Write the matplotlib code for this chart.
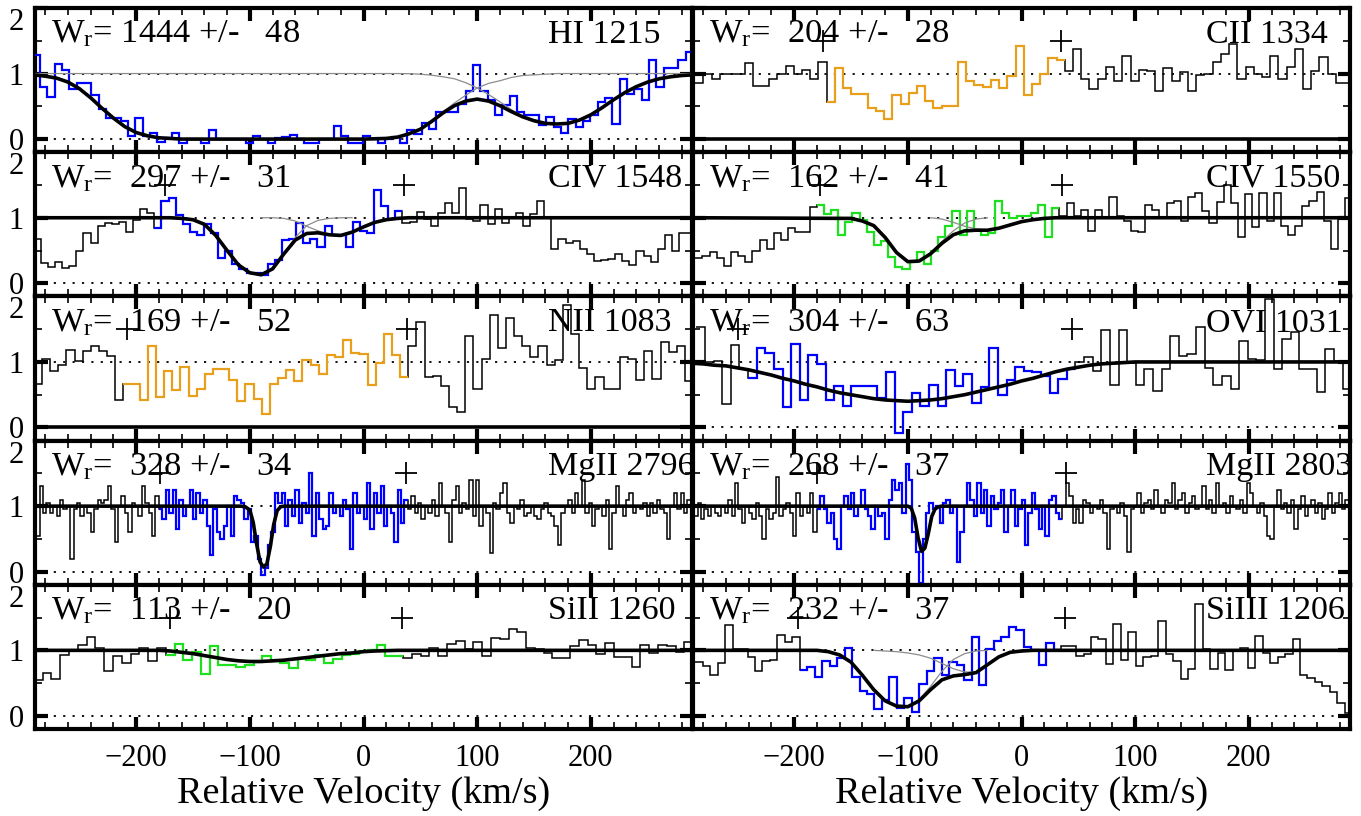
import matplotlib.pyplot as plt
from matplotlib.ticker import MultipleLocator
import numpy as np

plt.rcParams['font.family'] = ['Liberation Serif', 'DejaVu Serif']
plt.rcParams['mathtext.fontset'] = 'custom'
plt.rcParams['mathtext.rm'] = 'Liberation Serif'
plt.rcParams['mathtext.it'] = 'Liberation Serif:italic'

BLUE = '#0000ff'
ORANGE = '#e8a01c'
GREEN = '#1ee01e'
GREY = '0.55'

# ---------------- HI 1215 ----------------
hi_span = (-291, 290)
hi_flux = [1.29, 0.79, 0.64, 1.14, 1.05, 0.77, 0.85, 0.85, 0.67, 0.46,
           0.32, 0.32, 0.27, 0.05, 0.32, 0.05, 0.10, -0.05, 0.01, 0.09,
           -0.06, 0.00, 0.00, -0.06, 0.14, 0.00, 0.00, 0.00, 0.00, -0.06,
           0.05, 0.00, -0.06, 0.02, 0.03, 0.07, 0.00, -0.06, -0.06, 0.00,
           0.00, 0.20, 0.05, -0.06, -0.06, 0.05, 0.00, -0.06, 0.00, 0.03,
           -0.06, 0.14, 0.08, 0.25, 0.15, 0.41, 0.42, 0.42, 0.54, 0.73,
           1.13, 0.74, 0.59, 0.36, 0.52, 0.65, 0.41, 0.36, 0.36, 0.22,
           0.33, 0.19, 0.09, 0.31, 0.19, 0.28, 0.36, 0.57, 0.62, 0.23,
           0.91, 0.69, 0.77, 0.59, 1.20, 0.79, 1.08, 1.09, 1.20, 1.33]
hi_model_v = np.arange(-290, 291, 10)
hi_model = [0.98, 0.96, 0.93, 0.87, 0.77, 0.63, 0.47, 0.32, 0.19, 0.10,
            0.05, 0.02, 0.01, 0, 0, 0, 0, 0, 0, 0,
            0, 0, 0, 0, 0, 0, 0, 0, 0, 0,
            0.005, 0.01, 0.03, 0.08, 0.15, 0.27, 0.40, 0.51, 0.58, 0.61,
            0.58, 0.51, 0.42, 0.34, 0.28, 0.24, 0.23, 0.24, 0.29, 0.37,
            0.48, 0.60, 0.71, 0.80, 0.87, 0.92, 0.95, 0.97, 0.98]
hi_comp1 = [0.98, 0.96, 0.93, 0.87, 0.77, 0.63, 0.47, 0.32, 0.19, 0.10,
            0.05, 0.02, 0.01, 0, 0, 0, 0, 0, 0, 0,
            0, 0, 0, 0, 0, 0, 0, 0, 0, 0,
            0.005, 0.01, 0.03, 0.08, 0.16, 0.28, 0.42, 0.55, 0.67, 0.78,
            0.85, 0.89, 0.94, 0.97, 0.98, 0.99, 1, 1, 1, 1,
            1, 1, 1, 1, 1, 1, 1, 1, 1]
hi_comp2 = [1, 1, 1, 1, 1, 1, 1, 1, 1, 1,
            1, 1, 1, 1, 1, 1, 1, 1, 1, 1,
            1, 1, 1, 1, 1, 1, 1, 1, 1, 1,
            1, 1, 1, 0.998, 0.99, 0.975, 0.95, 0.92, 0.86, 0.78,
            0.68, 0.57, 0.45, 0.35, 0.29, 0.245, 0.23, 0.24, 0.29, 0.37,
            0.48, 0.60, 0.71, 0.80, 0.87, 0.92, 0.95, 0.97, 0.98]

# ---------------- CII 1334 ----------------
cii_span = (-287, 291)
cii_flux = [0.86, 1.00, 0.92, 1.00, 1.00, 1.00, 1.16, 0.81, 0.81, 0.92,
            1.00, 1.12, 1.00, 1.06, 0.92, 1.18, 0.57, 1.08, 0.78, 0.69,
            0.69, 0.47, 0.43, 0.30, 0.67, 0.53, 0.70, 0.81, 0.58, 0.48,
            0.51, 0.51, 1.18, 0.89, 0.82, 0.80, 0.90, 0.78, 0.97, 1.42,
            0.67, 0.84, 0.99, 1.24, 1.20, 1.04, 1.38, 0.91, 0.76, 0.92,
            1.10, 0.88, 1.27, 0.88, 1.06, 1.04, 0.73, 1.08, 0.89, 1.03,
            0.74, 0.98, 1.00, 1.18, 1.30, 1.45, 0.92, 1.10, 1.00, 0.95,
            1.27, 0.92, 1.10, 1.38, 0.76, 1.04, 1.25, 1.00, 0.86, 0.86]
cii_model_v = [-290, 290]
cii_model = [0.0, 0.0]

# ---------------- CIV 1548 ----------------
civ48_span = (-290, 290)
civ48_flux = [0.67, 0.31, 0.25, 0.33, 0.24, 0.27, 0.49, 0.77, 0.62, 0.87,
              0.92, 0.90, 0.94, 0.78, 0.96, 1.13, 1.08, 0.84, 1.25, 1.30,
              1.04, 0.90, 0.79, 0.74, 0.90, 0.76, 0.38, 0.50, 0.30, 0.22,
              0.16, 0.15, 0.12, 0.30, 0.35, 0.66, 0.68, 0.92, 0.61, 0.67,
              0.55, 0.87, 0.74, 0.74, 0.55, 0.93, 0.80, 0.76, 1.43, 1.18,
              0.98, 1.10, 0.92, 0.94, 1.09, 0.98, 0.88, 1.07, 1.23, 1.07,
              1.45, 0.98, 0.95, 1.20, 0.90, 1.14, 0.92, 1.00, 1.07, 0.87,
              1.05, 1.25, 1.00, 0.52, 0.67, 0.62, 0.64, 0.52, 0.44, 0.34,
              0.36, 0.37, 0.44, 0.34, 0.28, 0.50, 0.42, 0.33, 0.52, 0.73,
              0.50, 0.76, 0.76]
civ48_model_v = [-290, -170, -160, -150, -140, -130, -120, -110, -100, -90,
                 -80, -70, -60, -50, -40, -30, -20, -10, 0, 10, 20, 30, 40, 290]
civ48_model = [1, 1, 0.99, 0.97, 0.90, 0.73, 0.50, 0.28, 0.16, 0.13,
               0.22, 0.45, 0.66, 0.76, 0.77, 0.74, 0.73, 0.78, 0.86, 0.93,
               0.97, 0.99, 1.0, 1.0]
civ48_c1_v = [-160, -150, -140, -130, -120, -110, -100, -90, -80, -70,
              -60, -50, -40, -30, -20, -10]
civ48_c1 = [1.0, 0.97, 0.90, 0.73, 0.50, 0.28, 0.16, 0.13, 0.22, 0.45,
            0.70, 0.88, 0.96, 0.99, 1.0, 1.0]
civ48_c2_v = [-90, -80, -70, -60, -50, -40, -30, -20, -10, 0, 10, 20, 30, 40]
civ48_c2 = [1.0, 1.0, 0.99, 0.95, 0.87, 0.80, 0.75, 0.74, 0.78, 0.86,
            0.93, 0.97, 0.99, 1.0]

# ---------------- CIV 1550 ----------------
civ50_span = (-287, 291)
civ50_flux = [0.38, 0.41, 0.47, 0.38, 0.27, 0.48, 0.42, 0.32, 0.50, 0.66,
              0.52, 0.76, 0.66, 0.84, 0.78, 0.78, 1.16, 1.20, 1.06, 1.12,
              0.74, 0.93, 1.08, 0.97, 0.79, 0.58, 0.64, 0.40, 0.25, 0.22,
              0.32, 0.48, 0.30, 0.50, 0.70, 0.87, 1.10, 0.73, 1.10, 0.81,
              0.74, 0.77, 1.25, 1.07, 0.99, 1.03, 1.03, 1.08, 1.20, 0.70,
              1.15, 1.02, 1.22, 1.02, 1.12, 0.80, 1.12, 1.00, 1.31, 1.03,
              0.95, 0.80, 0.78, 1.20, 1.12, 1.00, 1.22, 1.26, 0.95, 1.32,
              1.37, 1.10, 0.92, 1.24, 1.50, 1.22, 0.70, 1.36, 0.86, 1.38,
              0.95, 1.38, 0.87, 0.73, 0.88, 1.18, 1.25, 1.40, 0.95, 0.52,
              0.98, 1.30]
civ50_model_v = [-290, -150, -140, -130, -120, -110, -100, -90, -80, -70,
                 -60, -50, -40, -30, -20, -10, 0, 10, 20, 30, 290]
civ50_model = [1, 0.99, 0.95, 0.88, 0.70, 0.47, 0.33, 0.34, 0.45, 0.61,
               0.74, 0.80, 0.81, 0.81, 0.84, 0.89, 0.94, 0.97, 0.99, 1.0, 1.0]
civ50_c1_v = [-150, -140, -130, -120, -110, -100, -90, -80, -70, -60, -50, -40, -30]
civ50_c1 = [0.99, 0.95, 0.88, 0.70, 0.47, 0.33, 0.34, 0.46, 0.64, 0.80, 0.92, 0.98, 1.0]
civ50_c2_v = [-80, -70, -60, -50, -40, -30, -20, -10, 0, 10, 20, 30]
civ50_c2 = [1.0, 0.98, 0.93, 0.87, 0.83, 0.81, 0.84, 0.89, 0.94, 0.97, 0.99, 1.0]

# ---------------- NII 1083 ----------------
nii_span = (-290, 290)
nii_flux = [0.67, 1.05, 0.86, 0.96, 1.18, 1.01, 1.17, 1.24, 1.16, 1.09,
            0.42, 0.67, 0.67, 0.42, 1.25, 0.47, 0.86, 0.57, 0.93, 0.48,
            0.58, 0.81, 0.89, 0.89, 0.73, 0.41, 0.66, 0.43, 0.21, 0.67,
            0.76, 0.88, 0.71, 1.03, 0.95, 0.82, 1.10, 1.07, 1.34, 1.14,
            1.12, 0.65, 0.98, 1.42, 1.10, 0.77, 1.25, 1.61, 0.77, 0.79,
            0.63, 0.31, 0.23, 1.40, 0.58, 1.05, 1.71, 1.22, 1.67, 1.40,
            1.25, 1.07, 1.25, 0.95, 1.03, 1.87, 1.43, 0.91, 0.59, 0.77,
            0.59, 0.59, 1.07, 1.04, 0.73, 1.17, 0.74, 1.31, 1.15, 1.24,
            0.71]
nii_model_v = [-290, 290]
nii_model = [0.0, 0.0]

# ---------------- OVI 1031 ----------------
ovi_span = (-286, 290)
ovi_flux = [1.54, 1.00, 1.02, 0.36, 1.26, 0.90, 0.76, 1.21, 1.14, 0.89,
            0.32, 1.27, 0.42, 1.10, 0.97, 0.42, 0.64, 0.33, 0.63, 0.64,
            0.63, 0.45, 0.85, -0.08, 0.23, 0.53, 0.33, 0.65, 0.33, 0.87,
            0.64, 0.81, 0.37, 0.62, 1.21, 0.49, 0.73, 0.93, 0.86, 0.85,
            0.79, 0.53, 0.74, 0.89, 1.00, 1.07, 0.86, 1.48, 0.65, 1.48,
            0.99, 0.65, 0.89, 0.55, 0.89, 1.39, 1.09, 1.12, 1.53, 0.91,
            0.65, 0.79, 0.59, 1.32, 1.04, 1.03, 1.96, 0.89, 1.35, 1.45,
            0.90, 0.89, 0.54, 1.20, 1.02, 0.58]
ovi_model_v = [-290, -280, -270, -260, -250, -240, -230, -220, -210, -200,
               -190, -180, -170, -160, -150, -140, -130, -120, -110, -100,
               -90, -80, -70, -60, -50, -40, -30, -20, -10, 0,
               10, 20, 30, 40, 50, 60, 70, 80, 90, 100, 290]
ovi_model = [0.98, 0.97, 0.95, 0.94, 0.91, 0.88, 0.84, 0.80, 0.75, 0.71,
             0.66, 0.62, 0.57, 0.53, 0.50, 0.47, 0.44, 0.42, 0.41, 0.40,
             0.41, 0.42, 0.44, 0.47, 0.50, 0.54, 0.58, 0.62, 0.66, 0.71,
             0.75, 0.80, 0.85, 0.89, 0.92, 0.95, 0.97, 0.98, 0.99, 1.0, 1.0]

# ---------------- MgII 2796 ----------------
mg96_span = (-291, 291)
mg96_flux = [0.85, 0.55, 1.30, 0.90, 1.05, 0.90, 1.00, 0.85, 1.10, 0.95,
             1.00, 0.20, 0.95, 1.05, 0.85, 1.00, 0.90, 0.60, 0.95, 1.10,
             1.05, 1.10, 1.30, 0.95, 0.45, 1.00, 1.15, 0.90, 0.60, 1.05,
             1.00, 0.85, 1.30, 1.05, 0.90, 0.55, 1.15, 0.95, 0.80, 1.25,
             0.90, 1.25, 0.65, 1.10, 0.85, 1.00, 1.25, 0.80, 1.20, 0.90,
             1.10, 0.70, 0.25, 0.95, 0.60, 0.50, 0.70, 1.00, 0.55, 1.15,
             1.10, 1.05, 0.80, 0.95, 0.45, 0.55, 0.20, -0.05, 0.05, 0.40,
             0.60, 1.20, 1.05, 1.20, 0.70, 1.10, 0.85, 1.25, 0.75, 1.05,
             0.90, 1.50, 0.55, 1.20, 0.80, 0.65, 0.70, 1.20, 0.90, 1.00,
             0.85, 1.10, 0.95, 0.35, 1.20, 0.90, 1.00, 0.80, 1.35, 0.65,
             1.20, 0.90, 1.30, 0.70, 1.00, 0.90, 0.45, 1.25, 0.75, 1.10,
             0.95, 1.15, 0.90, 1.05, 0.80, 1.00, 0.90, 1.10, 0.85, 1.35,
             1.00, 0.90, 0.45, 1.10, 1.30, 0.90, 1.05, 0.95, 1.40, 0.85,
             1.40, 0.70, 1.00, 0.90, 0.28, 1.05, 0.95, 1.20, 1.35, 0.90,
             0.75, 1.00, 0.95, 1.10, 0.85, 0.90, 1.00, 0.85, 0.80, 0.95,
             1.05, 0.90, 0.85, 0.70, 0.40, 0.90, 1.00, 1.10, 0.90, 1.20,
             1.00, 1.40, 0.90, 1.05, 0.70, 0.95, 1.00, 0.85, 1.10, 0.35,
             0.90, 1.30, 1.00, 0.85, 1.10, 1.20, 0.90, 1.00, 0.95, 1.05,
             0.85, 1.05, 0.90, 1.10, 0.95, 0.90, 0.50, 1.00, 1.20, 0.95,
             1.20, 0.90, 1.10, 0.95]
mg96_model_v = [-290, -108, -104, -100, -97, -94, -91, -88, -85, -82,
                -79, -76, -73, -70, 290]
mg96_model = [1, 1, 0.99, 0.94, 0.75, 0.42, 0.15, 0.07, 0.12, 0.38,
              0.72, 0.93, 0.99, 1, 1]

# ---------------- MgII 2803 ----------------
mg03_span = (-291, 291)
mg03_flux = [0.95, 0.85, 1.05, 0.80, 0.95, 0.85, 1.00, 0.90, 0.85, 1.00,
             0.90, 1.10, 0.85, 1.35, 0.95, 0.75, 1.00, 0.90, 0.80, 1.05,
             0.85, 0.50, 0.95, 0.80, 0.90, 1.45, 0.85, 0.95, 1.05, 0.90,
             0.55, 1.20, 0.85, 1.00, 0.90, 1.20, 0.60, 0.95, 1.15, 0.95,
             0.75, 0.90, 0.50, 0.35, 1.00, 1.15, 0.95, 1.20, 0.85, 1.00,
             1.25, 0.95, 0.85, 0.65, 1.00, 0.85, 0.90, 0.50, 1.10, 1.40,
             1.25, 1.35, 0.90, 1.65, 1.40, 0.60, 0.30, -0.17, 0.50, 0.90,
             1.05, 0.95, 1.00, 0.75, 1.05, 1.10, 0.90, 1.00, 0.15, 0.60,
             1.00, 1.35, 1.10, 0.85, 1.35, 0.90, 1.25, 0.70, 1.15, 0.95,
             1.05, 1.25, 0.60, 1.00, 1.25, 0.70, 0.95, 1.10, 0.40, 0.90,
             1.20, 0.95, 0.65, 1.00, 0.55, 1.10, 1.15, 0.90, 0.80, 1.00,
             1.35, 1.15, 0.75, 0.95, 0.75, 1.10, 1.05, 0.90, 1.00, 0.95,
             1.10, 0.90, 0.35, 0.95, 1.00, 0.90, 1.05, 0.85, 0.30, 0.95,
             1.00, 1.20, 0.90, 1.05, 1.10, 0.95, 1.25, 1.00, 0.90, 1.10,
             1.05, 1.35, 0.95, 1.10, 1.20, 0.90, 1.05, 1.15, 0.95, 1.00,
             1.30, 0.95, 1.10, 0.90, 1.35, 1.00, 1.05, 0.90, 1.15, 1.00,
             0.95, 1.10, 0.90, 1.35, 1.20, 1.00, 0.90, 1.05, 0.85, 0.55,
             0.50, 1.00, 1.25, 0.95, 1.05, 0.90, 1.10, 0.65, 0.95, 1.15,
             0.85, 1.00, 1.10, 0.90, 1.05, 0.80, 0.95, 1.20, 0.90, 1.05,
             1.20, 0.95, 1.10, 1.05]
mg03_model_v = [-290, -100, -97, -94, -91, -88, -85, -82, -79, -76, -73, -70, 290]
mg03_model = [1, 1, 0.97, 0.82, 0.52, 0.31, 0.36, 0.58, 0.84, 0.96, 0.99, 1, 1]

# ---------------- SiII 1260 ----------------
sii_span = (-290, 290)
sii_flux = [0.55, 0.66, 0.57, 0.93, 0.99, 1.08, 1.20, 1.04, 0.69, 0.92,
            0.80, 0.94, 1.04, 0.84, 1.04, 0.93, 1.10, 0.86, 0.98, 0.64,
            1.06, 0.78, 0.77, 0.74, 0.77, 0.82, 0.91, 0.84, 0.81, 0.73,
            0.88, 0.85, 0.93, 0.80, 0.87, 0.93, 0.95, 0.99, 1.00, 1.08,
            0.91, 0.92, 0.89, 0.95, 0.91, 1.04, 0.91, 1.09, 1.15, 1.02,
            1.12, 0.92, 1.19, 1.18, 1.33, 1.28, 1.04, 1.02, 0.96, 0.88,
            0.88, 1.06, 1.16, 1.08, 0.94, 1.11, 0.90, 0.90, 0.74, 1.08,
            0.96, 1.08, 1.06, 0.97, 1.13]
sii_model_v = [-290, -180, -170, -160, -150, -140, -130, -120, -110, -100,
               -90, -80, -70, -60, -50, -40, -30, -20, -10, 0, 10, 20, 30, 290]
sii_model = [1, 1, 0.99, 0.97, 0.95, 0.92, 0.89, 0.86, 0.84, 0.83,
             0.83, 0.84, 0.85, 0.87, 0.89, 0.91, 0.93, 0.95, 0.96, 0.98,
             0.99, 0.995, 1.0, 1.0]

# ---------------- SiIII 1206 ----------------
siiii_span = (-287, 291)
siiii_flux = [0.82, 0.76, 0.63, 0.80, 1.38, 1.02, 1.02, 0.90, 0.68, 0.83,
              0.86, 1.23, 1.13, 1.20, 0.70, 0.75, 0.60, 0.83, 0.76, 0.88,
              1.04, 0.60, 0.38, 0.33, 0.10, 0.25, 0.60, 0.12, 0.28, 0.06,
              0.48, 0.68, 0.88, 0.63, 0.82, 0.78, 0.55, 1.20, 0.47, 1.02,
              1.15, 1.20, 1.36, 1.31, 1.05, 1.00, 0.77, 1.11, 1.00, 1.07,
              1.07, 0.92, 0.94, 1.20, 1.17, 0.79, 1.40, 0.85, 1.28, 0.76,
              0.90, 0.92, 1.45, 0.95, 0.84, 0.56, 0.71, 1.70, 1.02, 0.72,
              0.96, 0.70, 1.00, 1.03, 0.73, 1.22, 0.96, 0.80, 0.90, 0.94,
              1.18, 0.63, 0.58, 0.52, 0.46, 0.37, 0.20, 0.04]
siiii_model_v = [-290, -180, -170, -160, -150, -140, -130, -120, -110, -100,
                 -90, -80, -70, -60, -50, -40, -30, -20, -10, 0, 10, 290]
siiii_model = [1, 1.0, 0.98, 0.93, 0.82, 0.62, 0.40, 0.23, 0.15, 0.14,
               0.23, 0.40, 0.55, 0.61, 0.63, 0.66, 0.78, 0.90, 0.97, 0.99,
               1.0, 1.0]
siiii_c1_v = [-180, -170, -160, -150, -140, -130, -120, -110, -100, -90,
              -80, -70, -60, -50, -40, -30]
siiii_c1 = [1.0, 0.98, 0.93, 0.82, 0.62, 0.40, 0.23, 0.15, 0.146, 0.25,
            0.45, 0.68, 0.86, 0.95, 0.99, 1.0]
siiii_c2_v = [-130, -120, -110, -100, -90, -80, -70, -60, -50, -40,
              -30, -20, -10, 0, 10]
siiii_c2 = [1.0, 0.99, 0.98, 0.96, 0.93, 0.88, 0.80, 0.72, 0.67, 0.67,
            0.78, 0.90, 0.97, 0.99, 1.0]

# panel table: (name, W, err, span, flux, colour, coloured range, marks, model, comps)
panels = [
    ('HI 1215', 1444, 48, hi_span, hi_flux, BLUE, (-300, 300), [],
     (hi_model_v, hi_model), [(hi_model_v, hi_comp1), (hi_model_v, hi_comp2)]),
    ('CII 1334', 204, 28, cii_span, cii_flux, ORANGE, (-175, 37), [-175, 35],
     (cii_model_v, cii_model), []),
    ('CIV 1548', 297, 31, civ48_span, civ48_flux, BLUE, (-182, 34), [-175, 36],
     (civ48_model_v, civ48_model), [(civ48_c1_v, civ48_c1), (civ48_c2_v, civ48_c2)]),
    ('CIV 1550', 162, 41, civ50_span, civ50_flux, GREEN, (-180, 34), [-177, 36],
     (civ50_model_v, civ50_model), [(civ50_c1_v, civ50_c1), (civ50_c2_v, civ50_c2)]),
    ('NII 1083', 169, 52, nii_span, nii_flux, ORANGE, (-210, 38), [-208, 38],
     (nii_model_v, nii_model), []),
    ('OVI 1031', 304, 63, ovi_span, ovi_flux, BLUE, (-240, 47), [-249, 44],
     (ovi_model_v, ovi_model), []),
    ('MgII 2796', 328, 34, mg96_span, mg96_flux, BLUE, (-180, 39), [-179, 37],
     (mg96_model_v, mg96_model), []),
    ('MgII 2803', 268, 37, mg03_span, mg03_flux, BLUE, (-179, 36), [-180, 39],
     (mg03_model_v, mg03_model), []),
    ('SiII 1260', 113, 20, sii_span, sii_flux, GREEN, (-176, 34), [-170, 34],
     (sii_model_v, sii_model), []),
    ('SiIII 1206', 232, 37, siiii_span, siiii_flux, BLUE, (-196, 34), [-197, 38],
     (siiii_model_v, siiii_model), [(siiii_c1_v, siiii_c1), (siiii_c2_v, siiii_c2)]),
]

W, H = 1361, 816
fig = plt.figure(figsize=(W / 100, H / 100), dpi=100)
col_left = [35, 693]
col_w = 657
row_top0, row_h = 8, 144.2

for k, (name, wr, err, span, flux, color, crange, marks, model, comps) in enumerate(panels):
    row, col = divmod(k, 2)
    top = row_top0 + row * row_h
    ax = fig.add_axes([col_left[col] / W, 1 - (top + row_h) / H, col_w / W, row_h / H])

    edges = np.linspace(span[0], span[1], len(flux) + 1)
    f = np.array(flux)
    centers = 0.5 * (edges[1:] + edges[:-1])

    ax.axhline(0, color='k', ls=(0, (1.2, 4)), lw=1.3, zorder=1)
    ax.axhline(1, color='k', ls=(0, (1.2, 4)), lw=1.3, zorder=1)

    ax.stairs(f, edges, baseline=None, color='k', lw=1.1, zorder=2)
    sel = np.where((centers >= crange[0]) & (centers <= crange[1]))[0]
    i0, i1 = sel[0], sel[-1]
    ax.stairs(f[i0:i1 + 1], edges[i0:i1 + 2], baseline=None, color=color,
              lw=1.6, zorder=3)

    for cv, cf in comps:
        ax.plot(cv, cf, color=GREY, lw=0.9, zorder=3.5)
    ax.plot(model[0], model[1], color='k', lw=2.6, zorder=4,
            solid_joinstyle='round')

    if marks:
        ax.plot(marks, [1.5] * len(marks), '+', color='k', ms=16, mew=1.3,
                zorder=5)

    ax.text(0.024, 0.76, 'W$_{\\mathrm{r}}$= %4d +/- %4d' % (wr, err),
            transform=ax.transAxes, fontsize=24.8, va='baseline', ha='left')
    ax.text(0.781, 0.76, name, transform=ax.transAxes, fontsize=24.5,
            va='baseline', ha='left')

    ax.set_xlim(-289, 289)
    ax.set_ylim(-0.2, 2.0)
    ax.set_xticks([-200, -100, 0, 100, 200])
    ax.xaxis.set_minor_locator(MultipleLocator(20))
    ax.set_yticks([0, 1, 2], labels=['0', '1', '2'])
    ax.yaxis.set_minor_locator(MultipleLocator(0.5))
    ax.tick_params(which='major', direction='in', top=True, right=True,
                   length=9, width=3, labelsize=22)
    ax.tick_params(which='minor', direction='in', top=True, right=True,
                   length=5, width=1.2)
    ax.tick_params(axis='x', pad=11)
    ax.tick_params(axis='y', pad=8)
    for s in ax.spines.values():
        s.set_linewidth(3)

    if row < 4:
        ax.tick_params(labelbottom=False)
    else:
        ax.set_xlabel('Relative Velocity (km/s)', fontsize=27.5, labelpad=2)
    if col == 1:
        ax.tick_params(labelleft=False)
    else:
        ax.yaxis.get_major_ticks()[2].label1.set_verticalalignment('top')

fig.savefig('out.png', dpi=100)
